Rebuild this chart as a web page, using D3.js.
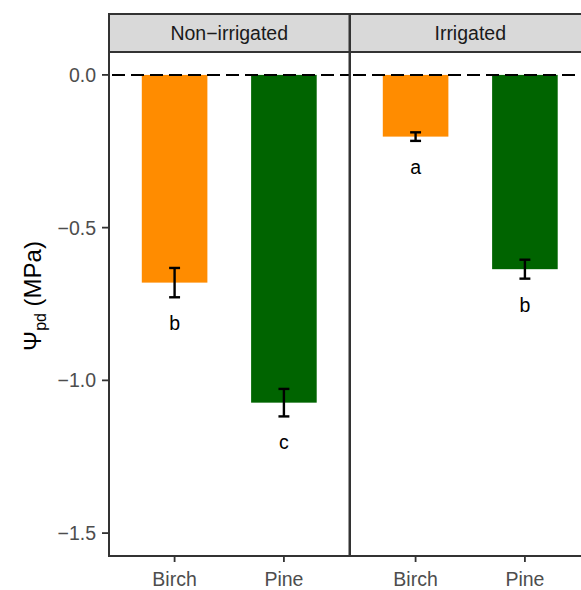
<!DOCTYPE html>
<html><head><meta charset="utf-8">
<script src="https://cdn.jsdelivr.net/npm/d3@7"></script>
<style>body{margin:0;background:#fff}svg{display:block}text{font-family:"Liberation Sans",Arial,sans-serif}</style>
</head><body>
<script>
const facets = ["Non\u2212irrigated", "Irrigated"];
const species = ["Birch", "Pine"];
const meansNonIrrigated = [-0.68, -1.073];
const seNonIrrigated = [0.048, 0.045];
const meansIrrigated = [-0.202, -0.636];
const seIrrigated = [0.014, 0.031];
const lettersNonIrrigated = ["b", "c"];
const lettersIrrigated = ["a", "b"];
const yTicks = [0, -0.5, -1.0, -1.5];
const colors = {Birch: "#FF8C00", Pine: "#006400"};

const W = 581, H = 590;
const svg = d3.select("body").append("svg").attr("width", W).attr("height", H);

const panelTop = 52, panelBottom = 556, stripTop = 14;
const panelW = 240.5;
const panelLeft = [109, 350];

const y = d3.scaleLinear().domain([-1.575, 0.075]).range([panelBottom, panelTop]);

const data = [
  {facet: facets[0], means: meansNonIrrigated, se: seNonIrrigated, letters: lettersNonIrrigated},
  {facet: facets[1], means: meansIrrigated, se: seIrrigated, letters: lettersIrrigated}
];

data.forEach((d, i) => {
  const x0 = panelLeft[i];
  const xc = d3.scaleLinear().domain([0.4, species.length + 0.6]).range([x0, x0 + panelW]);
  const unit = xc(1) - xc(0);
  const g = svg.append("g");
  species.forEach((s, j) => {
    const cx = xc(j + 1);
    const m = d.means[j], e = d.se[j];
    g.append("rect").attr("x", cx - 0.3 * unit).attr("width", 0.6 * unit)
      .attr("y", y(0)).attr("height", y(m) - y(0)).attr("fill", colors[s]);
    const hw = 0.05 * unit;
    const eb = g.append("g").attr("stroke", "#000").attr("stroke-width", 2.4);
    eb.append("line").attr("x1", cx).attr("x2", cx).attr("y1", y(m + e)).attr("y2", y(m - e));
    eb.append("line").attr("x1", cx - hw).attr("x2", cx + hw).attr("y1", y(m + e)).attr("y2", y(m + e));
    eb.append("line").attr("x1", cx - hw).attr("x2", cx + hw).attr("y1", y(m - e)).attr("y2", y(m - e));
    g.append("text").attr("x", cx).attr("y", y(m - e) + 33).attr("text-anchor", "middle")
      .attr("font-size", 19.5).attr("fill", "#000").text(d.letters[j]);
    g.append("line").attr("x1", cx).attr("x2", cx).attr("y1", panelBottom).attr("y2", panelBottom + 6)
      .attr("stroke", "#333").attr("stroke-width", 1.8);
    g.append("text").attr("x", cx).attr("y", panelBottom + 30).attr("text-anchor", "middle")
      .attr("font-size", 19.5).attr("fill", "#4D4D4D").text(s);
  });
  g.append("line").attr("x1", x0).attr("x2", x0 + panelW).attr("y1", y(0)).attr("y2", y(0))
    .attr("stroke", "#000").attr("stroke-width", 2).attr("stroke-dasharray", "13,6").attr("stroke-dashoffset", -3);
  g.append("rect").attr("x", x0).attr("y", panelTop).attr("width", panelW).attr("height", panelBottom - panelTop)
    .attr("fill", "none").attr("stroke", "#333").attr("stroke-width", 2);
  g.append("rect").attr("x", x0).attr("y", stripTop).attr("width", panelW).attr("height", panelTop - stripTop)
    .attr("fill", "#D9D9D9").attr("stroke", "#333").attr("stroke-width", 2);
  g.append("text").attr("x", x0 + panelW / 2).attr("y", (stripTop + panelTop) / 2 + 7).attr("text-anchor", "middle")
    .attr("font-size", 19.5).attr("fill", "#1A1A1A").text(d.facet);
});

const ya = svg.append("g");
yTicks.forEach(t => {
  ya.append("line").attr("x1", 102).attr("x2", 109).attr("y1", y(t)).attr("y2", y(t)).attr("stroke", "#333").attr("stroke-width", 1.8);
  ya.append("text").attr("x", 96).attr("y", y(t) + 7).attr("text-anchor", "end").attr("font-size", 19.5)
    .attr("fill", "#4D4D4D").text(d3.format(".1f")(t).replace("-", "\u2212"));
});

const yt = svg.append("text").attr("transform", "translate(41,296) rotate(-90)")
  .attr("text-anchor", "middle").attr("font-size", 24).attr("fill", "#000");
yt.append("tspan").text("\u03A8");
yt.append("tspan").attr("font-size", 16).attr("dy", 5).text("pd");
yt.append("tspan").attr("dy", -5).text(" (MPa)");
</script>
</body></html>
